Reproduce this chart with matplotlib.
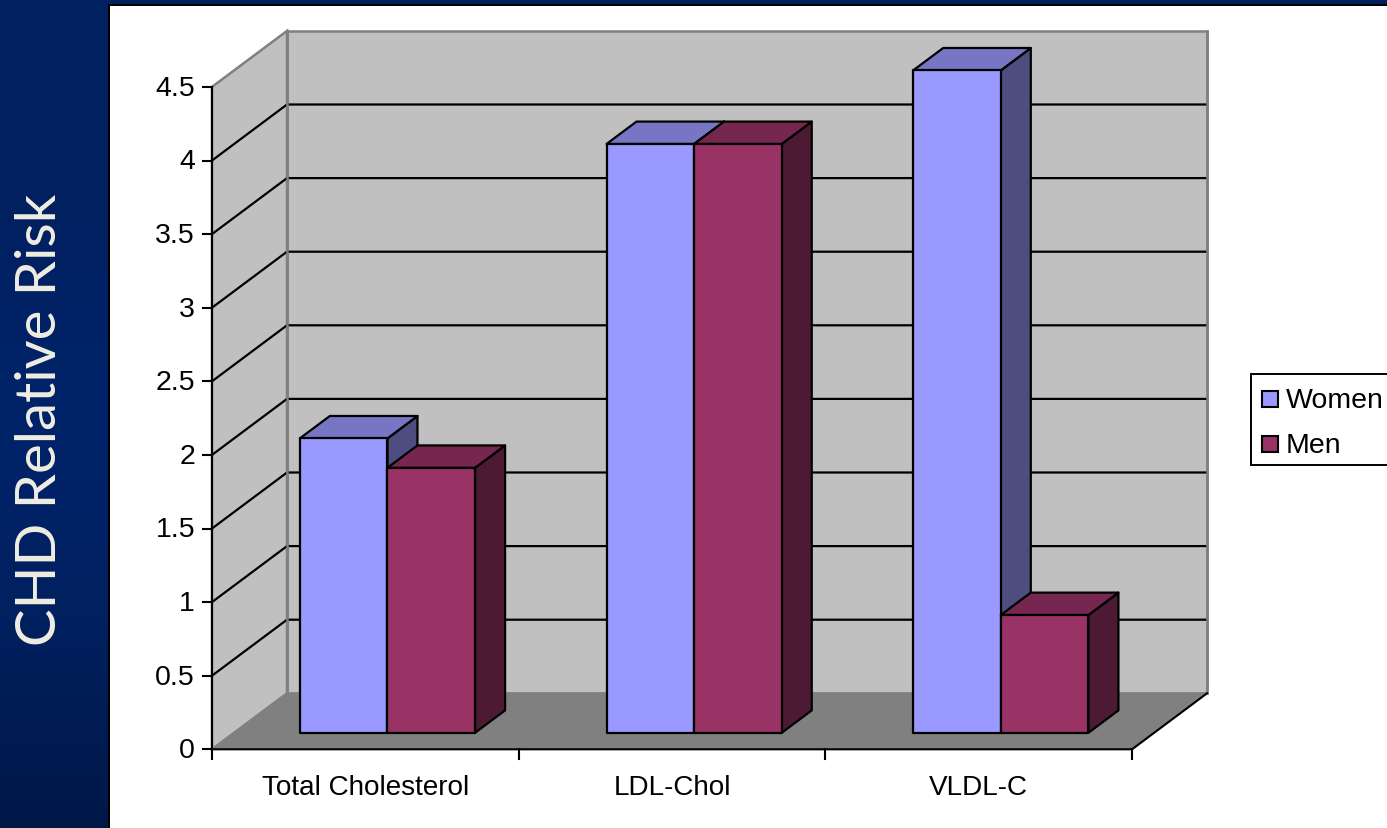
import numpy as np
import matplotlib
matplotlib.use("Agg")
from matplotlib import pyplot as plt
from matplotlib.colors import LinearSegmentedColormap, to_rgb
from matplotlib.patches import Polygon, Rectangle

categories = ["Total Cholesterol", "LDL-Chol", "VLDL-C"]
women = [2.0, 4.0, 4.5]
men = [1.8, 4.0, 0.8]
y_ticks = [0, 0.5, 1, 1.5, 2, 2.5, 3, 3.5, 4, 4.5]
y_tick_labels = ["0", "0.5", "1", "1.5", "2", "2.5", "3", "3.5", "4", "4.5"]

WOMEN_COLOR = "#9999FF"
MEN_COLOR = "#993366"
WALL = "#C0C0C0"
FLOOR = "#808080"
EDGE = "#808080"

# pixels per category and per unit of risk
X_SCALE = 306.67
Y_SCALE = 147.2

# oblique projection: one unit of depth moves a point right and up
DEPTH_X = 75 / X_SCALE
DEPTH_Y = 56 / Y_SCALE
BAR_WIDTH = 1 / 3.5
BAR_GAP = 0.75 * BAR_WIDTH
BAR_D0 = 0.295
BAR_D1 = 0.695


def shade(color, factor):
    return tuple(c * factor for c in to_rgb(color))


def proj(x, y, d=0.0):
    return (x + d * DEPTH_X, y + d * DEPTH_Y)


def draw_bar(ax, x0, value, color, z):
    x1 = x0 + BAR_WIDTH
    kw = dict(edgecolor="black", linewidth=1.6, joinstyle="round", zorder=z)
    ax.add_patch(Polygon([proj(x1, 0, BAR_D0), proj(x1, 0, BAR_D1),
                          proj(x1, value, BAR_D1), proj(x1, value, BAR_D0)],
                         facecolor=shade(color, 0.5), **kw))
    ax.add_patch(Polygon([proj(x0, value, BAR_D0), proj(x1, value, BAR_D0),
                          proj(x1, value, BAR_D1), proj(x0, value, BAR_D1)],
                         facecolor=shade(color, 0.77), **kw))
    ax.add_patch(Polygon([proj(x0, 0, BAR_D0), proj(x1, 0, BAR_D0),
                          proj(x1, value, BAR_D0), proj(x0, value, BAR_D0)],
                         facecolor=color, **kw))


def main():
    plt.rcParams["font.family"] = ["Liberation Sans", "DejaVu Sans"]
    fig = plt.figure(figsize=(13.87, 8.29), dpi=100, facecolor="white")

    # slide background: dark blue band on the left and along the top
    bg = fig.add_axes([0, 0, 1, 1], zorder=0)
    cmap = LinearSegmentedColormap.from_list(
        "slide", ["#002060", "#002060", "#00236A", "#00205F", "#001848"])
    bg.imshow(np.linspace(0, 1, 256).reshape(-1, 1), cmap=cmap, aspect="auto",
              extent=[0, 1387, 829, 0])
    bg.set_xlim(0, 1387)
    bg.set_ylim(829, 0)
    bg.add_patch(Rectangle((108, 5), 1279, 824, facecolor="black", linewidth=0))
    bg.add_patch(Rectangle((110, 7), 1277, 822, facecolor="white", linewidth=0))
    bg.axis("off")
    bg.text(56, 420, "CHD Relative Risk", rotation=90, rotation_mode="anchor",
            ha="center", va="baseline", color="#F0EEE2", fontsize=40.5,
            family=["Lato", "DejaVu Sans"])

    # legend box runs off the right edge of the slide
    bg.add_patch(Rectangle((1251, 374.5), 150, 91, facecolor="white",
                           edgecolor="black", linewidth=1.4))
    for label, color, yc in [("Women", WOMEN_COLOR, 400), ("Men", MEN_COLOR, 445)]:
        bg.add_patch(Rectangle((1262, yc - 8), 16, 16, facecolor=color,
                               edgecolor="black", linewidth=1.5))
        bg.text(1286, yc + 1, label, fontsize=20.5, va="center", ha="left", color="black")

    # chart axes: x in category units, y in relative risk
    ax = fig.add_axes([0, 0, 1, 1], zorder=1)
    ax.patch.set_alpha(0)
    ax.set_xlim(-212 / X_SCALE, (1387 - 212) / X_SCALE)
    ax.set_ylim(-(829 - 750.3) / Y_SCALE, 750.3 / Y_SCALE)
    ax.axis("off")

    n = len(categories)
    top = y_ticks[-1]

    # walls and floor
    ax.add_patch(Polygon([proj(0, 0, 1), proj(n, 0, 1), proj(n, top, 1), proj(0, top, 1)],
                         facecolor=WALL, edgecolor=EDGE, linewidth=1.8, zorder=1))
    ax.add_patch(Polygon([proj(0, 0), proj(0, 0, 1), proj(0, top, 1), proj(0, top)],
                         facecolor=WALL, edgecolor=EDGE, linewidth=1.8, zorder=1))
    ax.add_patch(Polygon([proj(0, 0), proj(n, 0), proj(n, 0, 1), proj(0, 0, 1)],
                         facecolor=FLOOR, edgecolor=EDGE, linewidth=1, zorder=2))

    # gridlines run along the side wall and the back wall
    for v in y_ticks[1:-1]:
        pts = [proj(0, v), proj(0, v, 1), proj(n, v, 1)]
        ax.plot(*zip(*pts), color="black", lw=1.6, zorder=3, solid_joinstyle="miter")

    # grey wall corners sit on top of the gridlines
    ax.plot(*zip(proj(0, 0, 1), proj(0, top, 1)), color=EDGE, lw=1.8, zorder=3.5)
    ax.plot(*zip(proj(n, 0, 1), proj(n, top, 1)), color=EDGE, lw=1.8, zorder=3.5)

    # front axis lines and ticks
    ax.plot(*zip(proj(0, 0), proj(0, top)), color="black", lw=1.5, zorder=4)
    ax.plot(*zip(proj(0, 0), proj(n, 0), proj(n, 0, 1)), color="black", lw=1.5, zorder=4)
    for v, label in zip(y_ticks, y_tick_labels):
        ax.plot([-9 / X_SCALE, 0], [v, v], color="black", lw=1.5, zorder=4)
        ax.text(-17 / X_SCALE, v - 1 / Y_SCALE, label, ha="right", va="center",
                fontsize=20.5, color="black")
    for i in range(n + 1):
        ax.plot([i, i], [0, -10 / Y_SCALE], color="black", lw=1.5, zorder=4)
    for i, name in enumerate(categories):
        ax.text(i + 0.5, -38 / Y_SCALE, name, ha="center", va="center",
                fontsize=20.1, color="black")

    # bars, left to right so each one covers the side of the previous
    z = 5
    for i in range(n):
        x0 = i + BAR_GAP
        draw_bar(ax, x0, women[i], WOMEN_COLOR, z)
        draw_bar(ax, x0 + BAR_WIDTH, men[i], MEN_COLOR, z + 1)
        z += 2

    fig.savefig("out.png", dpi=100)


if __name__ == '__main__':
    main()
